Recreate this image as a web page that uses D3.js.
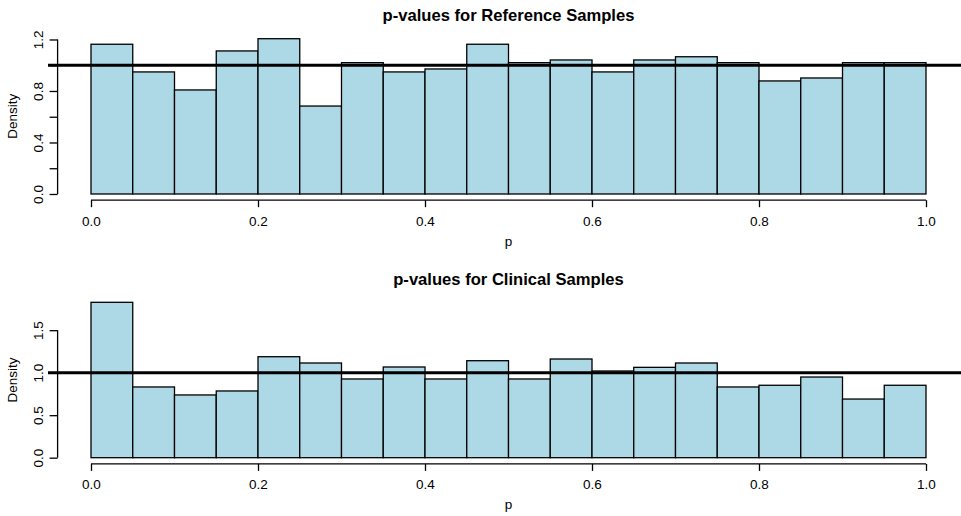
<!DOCTYPE html>
<html>
<head>
<meta charset="utf-8">
<script src="https://cdn.jsdelivr.net/npm/d3@7"></script>
<style>
  body { margin: 0; background: #fff; }
  text { font-family: "Liberation Sans", Arial, Helvetica, sans-serif; fill: #000; }
</style>
</head>
<body>
<svg id="chart" width="961" height="516"></svg>
<script>
// bin edges of the histograms
const breaks = [0, 0.05, 0.1, 0.15, 0.2, 0.25, 0.3, 0.35, 0.4, 0.45, 0.5,
                0.55, 0.6, 0.65, 0.7, 0.75, 0.8, 0.85, 0.9, 0.95, 1.0];

// density per bin
const refDensity = [1.163, 0.948, 0.808, 1.111, 1.206, 0.683, 1.020, 0.948, 0.971, 1.163,
                    1.020, 1.041, 0.948, 1.041, 1.066, 1.020, 0.878, 0.901, 1.020, 1.020];
const clinDensity = [1.828, 0.832, 0.738, 0.785, 1.188, 1.114, 0.926, 1.067, 0.926, 1.141,
                     0.926, 1.161, 1.020, 1.063, 1.114, 0.832, 0.852, 0.949, 0.690, 0.852];

const xTicks = [0, 0.2, 0.4, 0.6, 0.8, 1.0];
const refYTicks = [0, 0.2, 0.4, 0.6, 0.8, 1.0, 1.2];
const refYLabels = ["0.0", "", "0.4", "", "0.8", "", "1.2"];
const clinYTicks = [0, 0.5, 1.0, 1.5];
const clinYLabels = ["0.0", "0.5", "1.0", "1.5"];

const titles = ["p-values for Reference Samples", "p-values for Clinical Samples"];

const svg = d3.select("#chart");

// x pixel range of the plot region (R adds 4% each side)
const plotLeft = 57.6, plotRight = 959.4;
const x = d3.scaleLinear().domain([-0.04, 1.04]).range([plotLeft, plotRight]);

function drawPanel(density, yTicks, yLabels, title, top, bottom) {
  const ymax = d3.max(density);
  const y = d3.scaleLinear()
      .domain([-0.04 * ymax, 1.04 * ymax])
      .range([bottom, top]);

  const g = svg.append("g");

  // bars
  g.selectAll("rect")
    .data(density)
    .join("rect")
    .attr("x", (d, i) => x(breaks[i]))
    .attr("width", (d, i) => x(breaks[i + 1]) - x(breaks[i]))
    .attr("y", d => y(d))
    .attr("height", d => y(0) - y(d))
    .attr("fill", "#add8e6")
    .attr("stroke", "#000")
    .attr("stroke-width", 1.3);

  // reference line at density 1
  g.append("line")
    .attr("x1", 48).attr("x2", 961)
    .attr("y1", y(1)).attr("y2", y(1))
    .attr("stroke", "#000")
    .attr("stroke-width", 3);

  // x axis
  const xAxis = g.append("g")
    .attr("transform", `translate(0,${bottom})`)
    .call(d3.axisBottom(x).tickValues(xTicks).tickFormat(d3.format(".1f"))
      .tickSize(7).tickSizeOuter(0).tickPadding(5));
  xAxis.select(".domain").attr("d", `M${x(0)},0H${x(1)}`);

  // y axis
  const yAxis = g.append("g")
    .attr("transform", `translate(${plotLeft},0)`)
    .call(d3.axisLeft(y).tickValues(yTicks).tickFormat((d, i) => yLabels[i])
      .tickSize(8).tickSizeOuter(0));
  yAxis.select(".domain")
    .attr("d", `M0,${y(yTicks[0])}V${y(yTicks[yTicks.length - 1])}`);
  yAxis.selectAll(".tick text")
    .attr("x", 0).attr("y", 0)
    .attr("dy", null)
    .attr("text-anchor", "middle")
    .attr("transform", "translate(-15,0) rotate(-90)");

  [xAxis, yAxis].forEach(a => {
    a.selectAll("path, line").attr("stroke", "#000").attr("stroke-width", 1.3);
    a.selectAll("text").attr("font-size", 13.5).attr("font-family", null);
  });
  xAxis.selectAll(".tick text").attr("dy", null).attr("y", 25.5);

  // title
  g.append("text")
    .attr("x", (plotLeft + plotRight) / 2)
    .attr("y", top - 11.5)
    .attr("text-anchor", "middle")
    .attr("font-size", 16.6)
    .attr("font-weight", "bold")
    .text(title);

  // axis titles
  g.append("text")
    .attr("x", x(0.5))
    .attr("y", bottom + 45.5)
    .attr("text-anchor", "middle")
    .attr("font-size", 13.5)
    .text("p");

  g.append("text")
    .attr("transform", `translate(17,${(top + bottom) / 2}) rotate(-90)`)
    .attr("text-anchor", "middle")
    .attr("font-size", 13.5)
    .text("Density");
}

drawPanel(refDensity, refYTicks, refYLabels, titles[0], 32.5, 200.2);
drawPanel(clinDensity, clinYTicks, clinYLabels, titles[1], 296.1, 463.9);
</script>
</body>
</html>
